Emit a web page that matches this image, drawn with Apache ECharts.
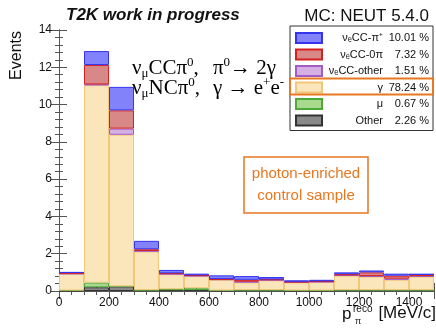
<!DOCTYPE html>
<html>
<head>
<meta charset="utf-8">
<script src="https://cdn.jsdelivr.net/npm/echarts@6/dist/echarts.min.js"></script>
<style>
html, body { margin: 0; padding: 0; background: #fff; }
#chart { width: 436px; height: 328px; }
</style>
</head>
<body>
<div id="chart"></div>
<script>
var chart = echarts.init(document.getElementById("chart"));

// bin lower edges, MeV/c (width 100)
var bins = ["0", "100", "200", "300", "400", "500", "600", "700", "800", "900", "1000", "1100", "1200", "1300", "1400"];

// stacked from bottom to top
var other   = [0.03, 0.20, 0.25, 0.05, 0.05, 0.05, 0.03, 0.05, 0.05, 0.03, 0.03, 0.05, 0.05, 0.05, 0.05];
var mu      = [0, 0.25, 0, 0, 0.05, 0.10, 0, 0, 0, 0, 0, 0, 0, 0, 0];
var gamma   = [0.89, 10.59, 8.13, 2.07, 0.80, 0.65, 0.57, 0.41, 0.52, 0.43, 0.45, 0.77, 0.72, 0.55, 0.73];
var ccOther = [0.01, 0.04, 0.33, 0.03, 0.02, 0.02, 0.02, 0.04, 0.03, 0.02, 0.02, 0.03, 0.03, 0.06, 0.02];
var cc0pi   = [0.06, 1.04, 0.98, 0.09, 0.03, 0.02, 0.02, 0.10, 0.02, 0.02, 0.02, 0.05, 0.20, 0.16, 0.09];
var ccPip   = [0.01, 0.75, 1.26, 0.45, 0.18, 0.09, 0.20, 0.20, 0.13, 0.07, 0.08, 0.10, 0.10, 0.11, 0.01];

var legendNames = ["ccPip", "cc0pi", "ccOther", "gamma", "mu", "other"];
var legendLabels = {
	ccPip: "\u03bd\u2091CC-\u03c0\u207a",
	cc0pi: "\u03bd\u2091CC-0\u03c0",
	ccOther: "\u03bd\u2091CC-other",
	gamma: "\u03b3",
	mu: "\u03bc",
	other: "Other"
};
var legendPct = { ccPip: "10.01 %", cc0pi: "7.32 %", ccOther: "1.51 %", gamma: "78.24 %", mu: "0.67 %", other: "2.26 %" };

function layer(name, data, fill, edge) {
	return {
		name: name,
		type: "bar",
		stack: "all",
		xAxisIndex: 2,
		barCategoryGap: "0%",
		data: data,
		itemStyle: { color: fill, borderColor: edge, borderWidth: 1 },
		emphasis: { disabled: true }
	};
}

var axisCol = "#555";
var font = "Liberation Sans, Arial, sans-serif";
var serif = "Liberation Serif";

// rich styles for the physics labels
var phys = {
	a: { fontFamily: serif, fontSize: 21, color: "#111", lineHeight: 24 },
	s: { fontFamily: serif, fontSize: 13, color: "#111", verticalAlign: "bottom", lineHeight: 24 },
	u: { fontFamily: serif, fontSize: 13, color: "#111", verticalAlign: "top", lineHeight: 24 }
};

var option = {
	animation: false,
	textStyle: { fontFamily: font },
	grid: { left: 59, right: 2, top: 30, bottom: 37 },
	xAxis: [{
		type: "value", min: 0, max: 1500, interval: 200, position: "bottom",
		axisLine: { lineStyle: { color: axisCol } },
		axisTick: { inside: true, length: 8, lineStyle: { color: axisCol } },
		minorTick: { show: true, splitNumber: 4, length: 4, lineStyle: { color: axisCol } },
		axisLabel: { showMaxLabel: false, color: "#111", fontSize: 12, margin: 6,
			formatter: function(v) { return String(v); } },
		splitLine: { show: false }
	}, {
		type: "value", min: 0, max: 1500, interval: 200, position: "top",
		axisLine: { lineStyle: { color: axisCol } },
		axisTick: { inside: true, length: 8, lineStyle: { color: axisCol } },
		minorTick: { show: true, splitNumber: 4, length: 4, lineStyle: { color: axisCol } },
		axisLabel: { show: false },
		splitLine: { show: false }
	}, {
		type: "category", data: bins, show: false
	}],
	yAxis: [{
		type: "value", min: 0, max: 14, interval: 2, position: "left",
		axisLine: { show: true, lineStyle: { color: axisCol } },
		axisTick: { show: true, inside: true, length: 8, lineStyle: { color: axisCol } },
		minorTick: { show: true, splitNumber: 5, length: 4, lineStyle: { color: axisCol } },
		axisLabel: { color: "#111", fontSize: 12, margin: 7 },
		splitLine: { show: false }
	}, {
		type: "value", min: 0, max: 14, interval: 2, position: "right",
		axisLine: { show: true, lineStyle: { color: axisCol } },
		axisTick: { show: true, inside: true, length: 8, lineStyle: { color: axisCol } },
		minorTick: { show: true, splitNumber: 5, length: 4, lineStyle: { color: axisCol } },
		axisLabel: { show: false },
		splitLine: { show: false }
	}],
	legend: {
		data: legendNames,
		orient: "vertical",
		left: 290, top: 26,
		padding: [6, 4, 4, 5],
		backgroundColor: "#fff",
		borderColor: "#333",
		borderWidth: 1,
		borderRadius: 0,
		icon: "rect",
		itemWidth: 26, itemHeight: 10, itemGap: 4.5, itemTextGap: 5,
		selectedMode: false,
		formatter: function(name) {
			return "{n|" + legendLabels[name] + "}{p|" + legendPct[name] + "}";
		},
		textStyle: {
			rich: {
				n: { width: 56, align: "right", fontSize: 11, lineHeight: 13, color: "#111", fontFamily: font },
				p: { width: 46, align: "right", fontSize: 11, lineHeight: 13, color: "#111", fontFamily: font }
			}
		}
	},
	title: [{
		text: "T2K work in progress", left: 61, top: 2,
		textStyle: { fontFamily: font, fontSize: 17, fontWeight: "bold", fontStyle: "italic", color: "#111" }
	}, {
		text: "MC: NEUT 5.4.0", right: 2, top: 3,
		textStyle: { fontFamily: font, fontSize: 17, fontWeight: "normal", color: "#111" }
	}],
	graphic: [
		{ type: "rect", z: 100, shape: { x: 290, y: 78.5, width: 143, height: 16 },
		  style: { fill: "none", stroke: "#e87722", lineWidth: 2 } },
		{ type: "text", x: 17, y: 31, rotation: Math.PI / 2, z: 100,
		  style: { text: "Events", font: "16px " + font, fill: "#111", align: "right", verticalAlign: "middle" } },
		{ type: "text", x: 342, y: 314, z: 100,
		  style: { text: "p", font: "17px " + font, fill: "#111", verticalAlign: "middle" } },
		{ type: "text", x: 353, y: 309, z: 100,
		  style: { text: "reco", font: "10px " + font, fill: "#111", verticalAlign: "middle" } },
		{ type: "text", x: 355, y: 322, z: 100,
		  style: { text: "\u03c0", font: "9px " + font, fill: "#111", verticalAlign: "middle" } },
		{ type: "text", x: 436, y: 313, z: 100,
		  style: { text: "[MeV/c]", font: "17px " + font, fill: "#111", align: "right", verticalAlign: "middle" } },
		{ type: "text", x: 132, y: 56, z: 100,
		  style: { text: "{a|\u03bd}{s|\u03bc}{a|CC\u03c0}{u|0}{a|,}", rich: phys } },
		{ type: "text", x: 132, y: 76, z: 100,
		  style: { text: "{a|\u03bd}{s|\u03bc}{a|NC\u03c0}{u|0}{a|,}", rich: phys } },
		{ type: "text", x: 213, y: 56, z: 100,
		  style: { text: "{a|\u03c0}{u|0}{a|\u2192 2\u03b3}", rich: phys } },
		{ type: "text", x: 213, y: 76, z: 100,
		  style: { text: "{a|\u03b3 \u2192 e}{u|+}{a|e}{u|-}", rich: phys } },
		{ type: "rect", z: 100, shape: { x: 244, y: 157, width: 124, height: 56 },
		  style: { fill: "#fff", stroke: "#e87722", lineWidth: 1.5 } },
		{ type: "text", x: 306, y: 174, z: 101,
		  style: { text: "photon-enriched", font: "15px " + font, fill: "#e87722", align: "center", verticalAlign: "middle" } },
		{ type: "text", x: 306, y: 196, z: 101,
		  style: { text: "control sample", font: "15px " + font, fill: "#e87722", align: "center", verticalAlign: "middle" } }
	],
	series: [
		layer("other", other, "#8a8a8a", "#333333"),
		layer("mu", mu, "#a9d98f", "#4fa83a"),
		layer("gamma", gamma, "#fbe6bb", "#f2c77a"),
		layer("ccOther", ccOther, "#d5aee3", "#a35cc4"),
		layer("cc0pi", cc0pi, "#d98888", "#d61f1f"),
		layer("ccPip", ccPip, "#8282fb", "#3535f0")
	]
};

chart.setOption(option);
</script>
</body>
</html>
